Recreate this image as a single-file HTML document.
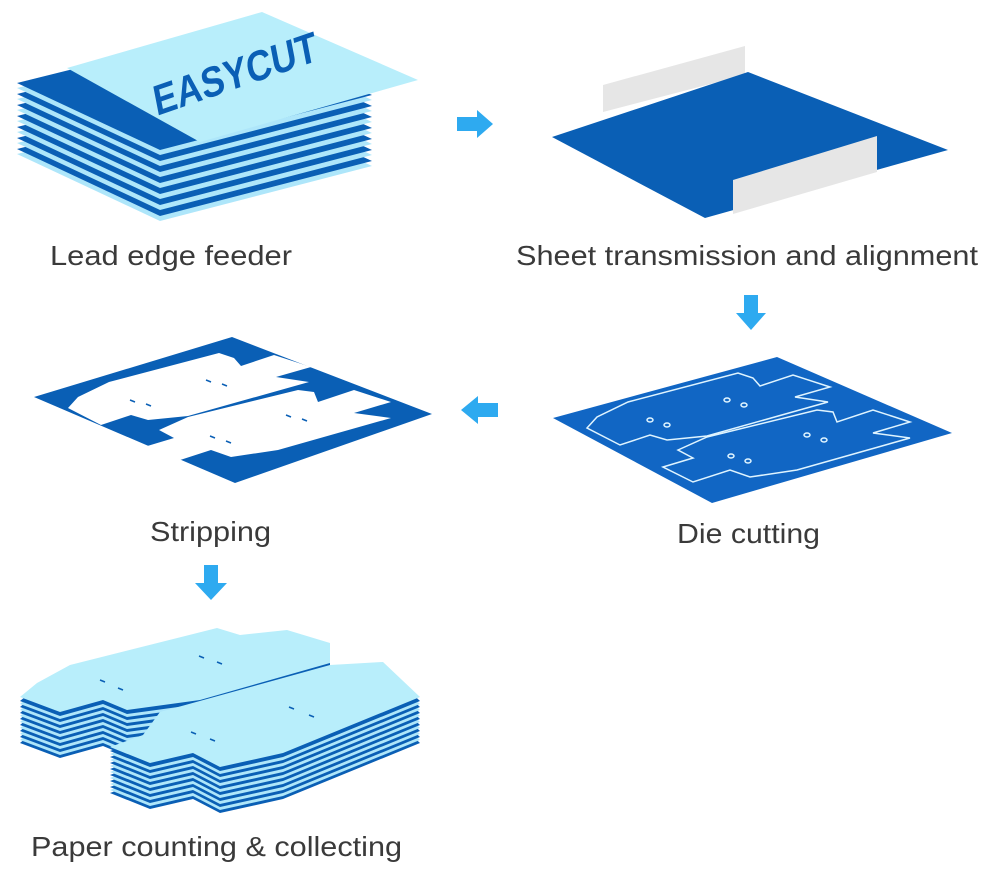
<!DOCTYPE html>
<html><head><meta charset="utf-8"><style>
html,body{margin:0;padding:0;background:#fff}
svg{display:block}
text{font-family:"Liberation Sans",sans-serif}
.l{font-size:28px;fill:#3a3a3a}
</style></head><body>
<svg width="1000" height="872" viewBox="0 0 1000 872" xmlns="http://www.w3.org/2000/svg">
<defs>
<polygon id="feed" points="17,83 230,30 372,95 160,150"/>
<polygon id="stL" points="20,697 37,683 70,665 217,628 240,635 287,630 330,643 330,663 200,700 127,710 103,700 60,712"/>
<polygon id="stR" points="110,747 143,735 160,712 330,665 383,662 420,697 283,753 220,767 193,753 150,763"/>
<path id="cutA" d="M587,428 L597,417 L628,402 L738,373 L753,378 L760,386 L793,375 L830,387 L795,397 L828,402 L707,436 L667,440 L650,435 L620,445 Z"/>
<path id="cutB" d="M663,467 L693,458 L678,450 L707,437 L817,410 L833,412 L837,422 L873,410 L910,422 L873,433 L910,438 L797,470 L750,477 L730,470 L693,482 Z"/>
</defs>
<!-- feeder stack -->
<g>
<use href="#feed" y="71" fill="#aee6fa"/>
<use href="#feed" y="66" fill="#0a5fb5"/>
<use href="#feed" y="60" fill="#aee6fa"/>
<use href="#feed" y="55" fill="#0a5fb5"/>
<use href="#feed" y="49" fill="#aee6fa"/>
<use href="#feed" y="44" fill="#0a5fb5"/>
<use href="#feed" y="38" fill="#aee6fa"/>
<use href="#feed" y="33" fill="#0a5fb5"/>
<use href="#feed" y="27" fill="#aee6fa"/>
<use href="#feed" y="22" fill="#0a5fb5"/>
<use href="#feed" y="16" fill="#aee6fa"/>
<use href="#feed" y="11" fill="#0a5fb5"/>
<use href="#feed" y="5" fill="#aee6fa"/>
<use href="#feed" y="0" fill="#0a5fb5"/>
<polygon points="67,68 262,12 418,80 200,142" fill="#b8eefb"/>
<text x="0" y="0" transform="translate(238,88) rotate(-19) skewX(-8)" text-anchor="middle" font-size="42" font-weight="bold" fill="#0a5fb5" textLength="172" lengthAdjust="spacingAndGlyphs">EASYCUT</text>
</g>
<text class="l" x="50" y="265" textLength="242" lengthAdjust="spacingAndGlyphs">Lead edge feeder</text>
<!-- arrow right -->
<polygon points="457,117 477,117 477,110 493,124 477,138 477,131 457,131" fill="#2eaaf0"/>
<!-- panel 2 -->
<polygon points="603,85 745,46 745,75 603,112" fill="#e6e6e6"/>
<polygon points="552,137 748,72 948,150 705,218" fill="#0a5fb5"/>
<polygon points="733,180 877,136 877,172 733,214" fill="#e6e6e6"/>
<text class="l" x="516" y="265" textLength="462" lengthAdjust="spacingAndGlyphs">Sheet transmission and alignment</text>
<!-- arrow down -->
<polygon points="744,295 758,295 758,313 766,313 751,330 736,313 744,313" fill="#2eaaf0"/>
<!-- die cutting -->
<polygon points="553,418 777,357 952,433 712,503" fill="#1166c4"/>
<g fill="none" stroke="#dff4ff" stroke-width="1.5">
<use href="#cutA"/><use href="#cutB"/>
<g fill="none"><ellipse cx="727" cy="400" rx="3" ry="2"/><ellipse cx="744" cy="405" rx="3" ry="2"/>
<ellipse cx="650" cy="420" rx="3" ry="2"/><ellipse cx="667" cy="425" rx="3" ry="2"/>
<ellipse cx="807" cy="435" rx="3" ry="2"/><ellipse cx="824" cy="440" rx="3" ry="2"/>
<ellipse cx="731" cy="456" rx="3" ry="2"/><ellipse cx="748" cy="461" rx="3" ry="2"/></g>
</g>
<text class="l" x="677" y="543" textLength="143" lengthAdjust="spacingAndGlyphs">Die cutting</text>
<!-- arrow left -->
<polygon points="498,403 478,403 478,396 461,410 478,424 478,417 498,417" fill="#2eaaf0"/>
<!-- stripping -->
<polygon points="34,397 232,337 432,414 235,483" fill="#0a5fb5"/>
<g transform="translate(-519,-20)" fill="#fff">
<use href="#cutA"/><use href="#cutB"/>
</g>
<g stroke="#0a5fb5" stroke-width="1.5">
<line x1="206" y1="380" x2="211" y2="382"/><line x1="222" y1="384" x2="227" y2="386"/>
<line x1="130" y1="400" x2="135" y2="402"/><line x1="146" y1="404" x2="151" y2="406"/>
<line x1="286" y1="415" x2="291" y2="417"/><line x1="302" y1="419" x2="307" y2="421"/>
<line x1="210" y1="436" x2="215" y2="438"/><line x1="226" y1="441" x2="231" y2="443"/>
</g>
<text class="l" x="150" y="541" textLength="121" lengthAdjust="spacingAndGlyphs">Stripping</text>
<!-- arrow down -->
<polygon points="204,565 218,565 218,583 227,583 211,600 195,583 204,583" fill="#2eaaf0"/>
<!-- paper stacks -->
<g>
<use href="#stL" y="46" fill="#0a5fb5"/><use href="#stL" y="43" fill="#aee6fa"/>
<use href="#stL" y="40" fill="#0a5fb5"/><use href="#stL" y="37" fill="#aee6fa"/>
<use href="#stL" y="34" fill="#0a5fb5"/><use href="#stL" y="31" fill="#aee6fa"/>
<use href="#stL" y="28" fill="#0a5fb5"/><use href="#stL" y="25" fill="#aee6fa"/>
<use href="#stL" y="22" fill="#0a5fb5"/><use href="#stL" y="19" fill="#aee6fa"/>
<use href="#stL" y="16" fill="#0a5fb5"/><use href="#stL" y="13" fill="#aee6fa"/>
<use href="#stL" y="10" fill="#0a5fb5"/><use href="#stL" y="7" fill="#aee6fa"/>
<use href="#stL" y="4" fill="#0a5fb5"/><use href="#stL" y="0" fill="#b8eefb"/>
<use href="#stR" y="46" fill="#0a5fb5"/><use href="#stR" y="43" fill="#aee6fa"/>
<use href="#stR" y="40" fill="#0a5fb5"/><use href="#stR" y="37" fill="#aee6fa"/>
<use href="#stR" y="34" fill="#0a5fb5"/><use href="#stR" y="31" fill="#aee6fa"/>
<use href="#stR" y="28" fill="#0a5fb5"/><use href="#stR" y="25" fill="#aee6fa"/>
<use href="#stR" y="22" fill="#0a5fb5"/><use href="#stR" y="19" fill="#aee6fa"/>
<use href="#stR" y="16" fill="#0a5fb5"/><use href="#stR" y="13" fill="#aee6fa"/>
<use href="#stR" y="10" fill="#0a5fb5"/><use href="#stR" y="7" fill="#aee6fa"/>
<use href="#stR" y="4" fill="#0a5fb5"/><use href="#stR" y="0" fill="#b8eefb"/>
</g>
<g stroke="#0a5fb5" stroke-width="1.5">
<line x1="199" y1="656" x2="204" y2="658"/><line x1="217" y1="662" x2="222" y2="664"/>
<line x1="100" y1="680" x2="105" y2="682"/><line x1="118" y1="688" x2="123" y2="690"/>
<line x1="289" y1="707" x2="294" y2="709"/><line x1="309" y1="715" x2="314" y2="717"/>
<line x1="191" y1="732" x2="196" y2="734"/><line x1="210" y1="739" x2="215" y2="741"/>
</g>
<text class="l" x="31" y="856" textLength="371" lengthAdjust="spacingAndGlyphs">Paper counting &amp; collecting</text>
</svg>
</body></html>
